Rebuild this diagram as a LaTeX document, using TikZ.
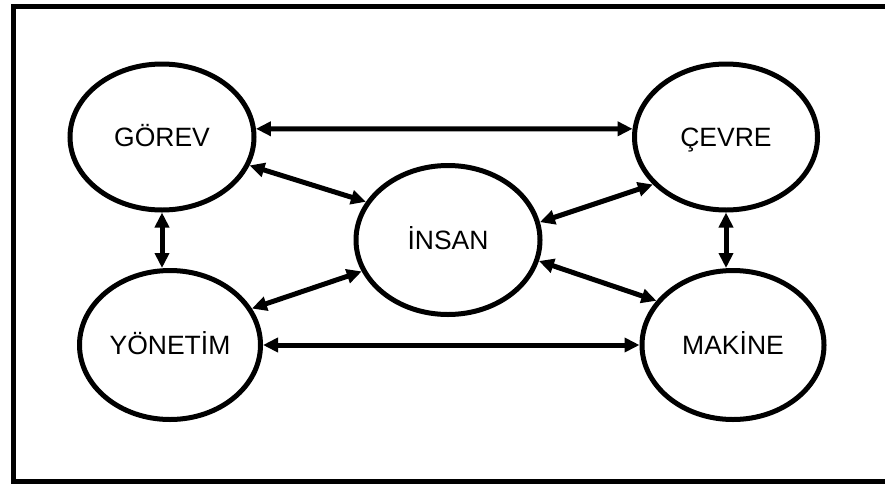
\documentclass[tikz,border=0pt]{standalone}
\usepackage{fontspec}
\setmainfont{Liberation Sans}
\usetikzlibrary{arrows.meta,shapes.geometric}
\begin{document}
\begin{tikzpicture}[x=1pt,y=-1pt,
  unit/.style={ellipse, draw, line width=5pt, inner sep=0pt,
    text height=19pt, text depth=0pt,
    font=\fontsize{26.5}{30}\selectfont},
  link/.style={line width=5pt, {Triangle[length=15pt,width=14pt]}-{Triangle[length=15pt,width=14pt]}}]
\useasboundingbox (0,0) rectangle (885,485);
\clip (0,0) rectangle (885,485);
\fill[white] (0,0) rectangle (885,485);
% outer frame (its right side runs past the page edge)
\draw[line width=5pt] (13,6) rectangle (900,481);

\node[unit, minimum width=184pt, minimum height=146pt] (gorev)   at (162,137) {GÖREV};
\node[unit, minimum width=183pt, minimum height=146pt] (cevre)   at (726,137) {ÇEVRE};
\node[unit, minimum width=184pt, minimum height=149pt] (insan)   at (448,240) {İNSAN};
\node[unit, minimum width=181pt, minimum height=149pt] (yonetim) at (170,345) {YÖNETİM};
\node[unit, minimum width=182pt, minimum height=149pt] (makine)  at (733,345) {MAKİNE};

\draw[link] (gorev.5) -- (cevre.175);
\draw[link] (yonetim.east) -- (makine.west);
\draw[link] (gorev.south) -- (gorev.south |- yonetim.north);
\draw[link] (cevre.south) -- (cevre.south |- makine.north);
\draw[link] (gorev.-18) -- (insan.155);
\draw[link] (yonetim.24) -- (insan.200);
\draw[link] (cevre.213) -- (insan.11);
\draw[link] (makine.150) -- (insan.-13);
\end{tikzpicture}
\end{document}
